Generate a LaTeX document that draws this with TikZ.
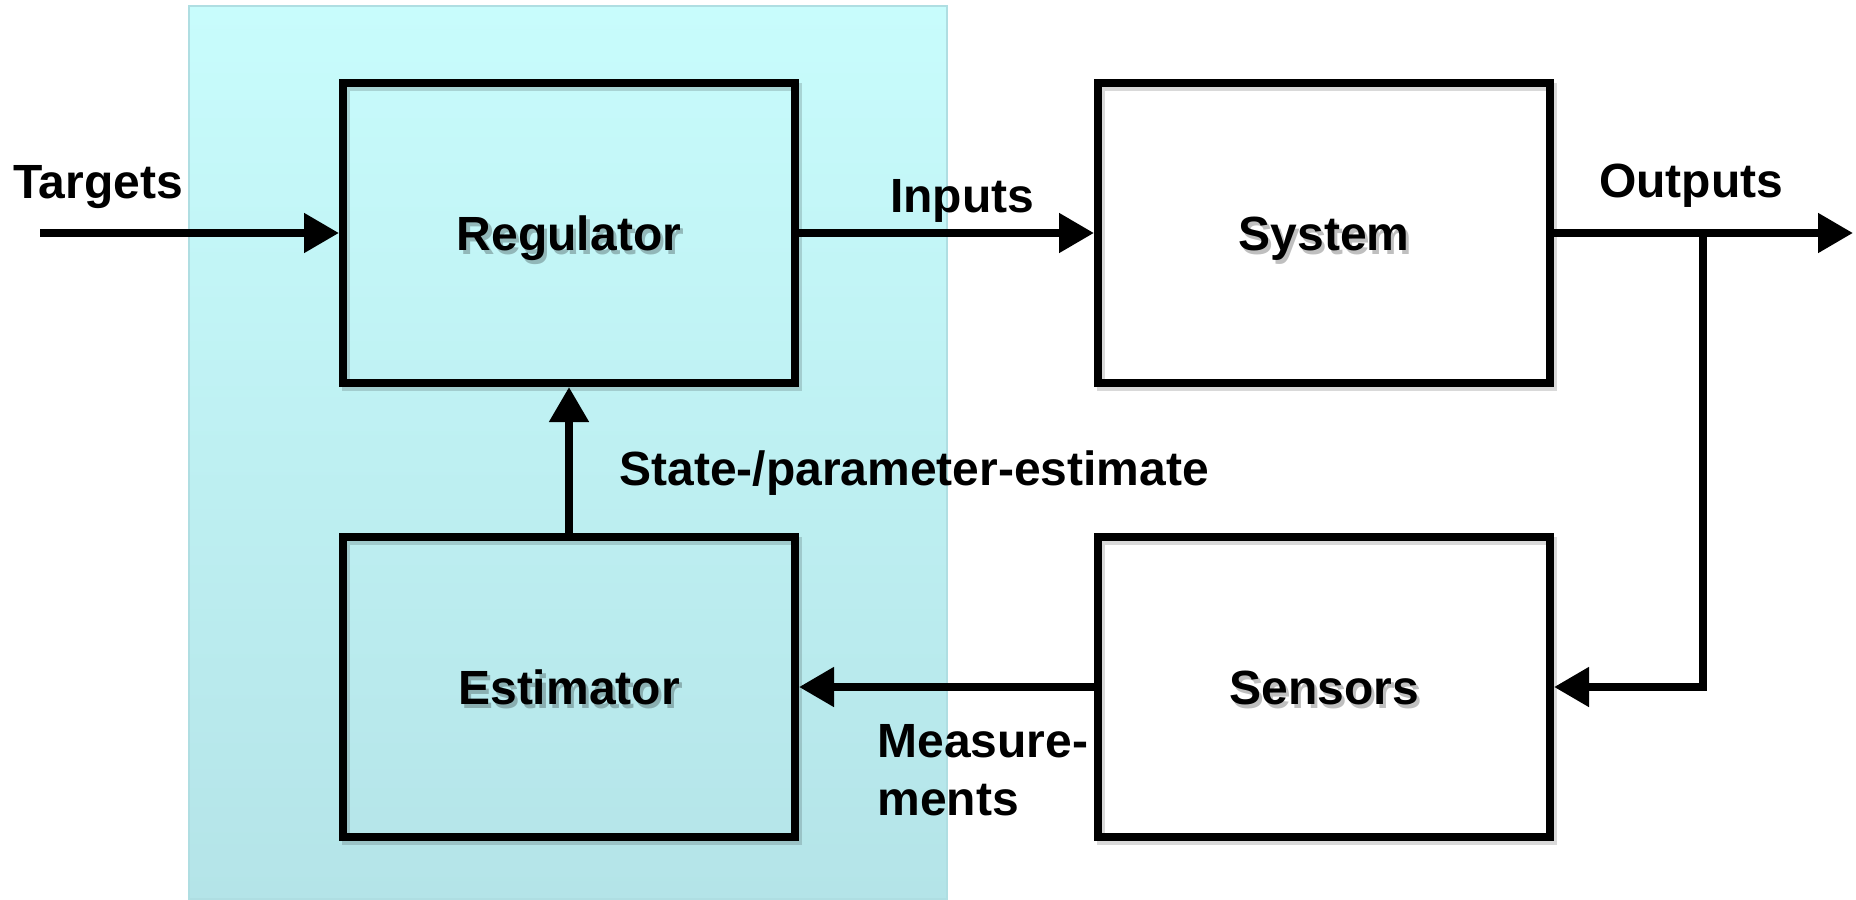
\documentclass[tikz,border=0pt]{standalone}
\usepackage{fontspec}
\setmainfont{Liberation Sans}
\usetikzlibrary{arrows.meta}

\definecolor{paneltop}{RGB}{200,252,252}
\definecolor{panelbot}{RGB}{180,228,232}
\definecolor{paneledge}{RGB}{175,222,226}

\begin{document}
\begin{tikzpicture}[x=0.5pt,y=-0.5pt,
  txt/.style={font=\fontsize{24pt}{29pt}\selectfont\bfseries,inner sep=0pt},
  blk/.style={txt,draw=black,line width=4pt,minimum width=226pt,minimum height=150pt,
              text height=17.2pt,text depth=0pt},
  blkshadow/.style={draw=black,opacity=0.15,line width=4pt},
  txtshadow/.style={txt,text=black,opacity=0.25,text height=17.2pt,text depth=0pt},
  conn/.style={line width=4pt,-{Triangle[length=17.5pt,width=19pt]}},
  edgelbl/.style={txt,anchor=base,align=left}
]
\useasboundingbox (0,0) rectangle (1856,899);

% controller panel
\shade[top color=paneltop,bottom color=panelbot,draw=paneledge,line width=0.6pt]
  (189,6) rectangle (947,899);

% soft shadows of the blocks and their titles
\foreach \cx/\cy/\t in {569/233/Regulator,569/687/Estimator,1324/233/System,1324/687/Sensors}{
  \draw[blkshadow] (\cx-226+3,\cy-150+4) rectangle (\cx+226+3,\cy+150+4);
  \node[txtshadow] at (\cx+3,\cy+4) {\t};
}

% blocks
\node[blk] (reg) at (569,233) {Regulator};
\node[blk] (est) at (569,687) {Estimator};
\node[blk] (sys) at (1324,233) {System};
\node[blk] (sen) at (1324,687) {Sensors};

% free ends and branch point
\coordinate (tin) at (40,233);
\coordinate (tout) at (1853,233);
\coordinate (branch) at (1703,233);

% connectors
\draw[conn] (tin) -- (reg.west);
\draw[conn] (reg.east) -- (sys.west);
\draw[conn] (sys.east) -- (tout);
\draw[conn] (branch) |- (sen.east);
\draw[conn] (sen.west) -- (est.east);
\draw[conn] (est.north) -- (reg.south);

% connector labels
\node[edgelbl] (lt) at (98,198) {Targets};
\node[edgelbl] (li) at (962,212) {Inputs};
\node[edgelbl] (lo) at (1691,197) {Outputs};
\node[edgelbl,anchor=base west] (ls) at (619,485) {State-/parameter-estimate};
\node[edgelbl,anchor=base west] (lm) at (877,815) {Measure-\\ments};
\end{tikzpicture}
\end{document}
